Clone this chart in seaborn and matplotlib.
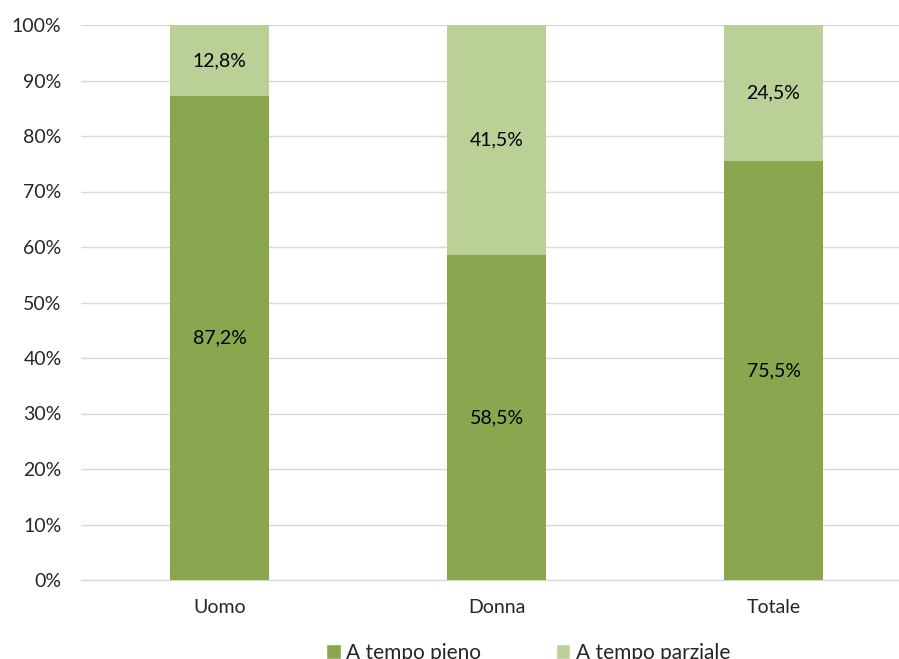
import matplotlib
matplotlib.use("Agg")
import matplotlib.pyplot as plt
import seaborn as sns
import pandas as pd
from matplotlib.patches import Patch

categorie = ["Uomo", "Donna", "Totale"]
tempo_pieno = [87.2, 58.5, 75.5]
tempo_parziale = [12.8, 41.5, 24.5]
serie = ["A tempo pieno", "A tempo parziale"]
colori = ["#8AA64E", "#BBD097"]
yticks = [0, 10, 20, 30, 40, 50, 60, 70, 80, 90, 100]

sns.set_theme(style="white")
plt.rcParams["font.family"] = ["Lato", "DejaVu Sans"]

df = pd.DataFrame({
    "categoria": categorie,
    "pieno": tempo_pieno,
    "totale": [a + b for a, b in zip(tempo_pieno, tempo_parziale)],
})

fig = plt.figure(figsize=(8.99, 6.59), dpi=100)
ax = fig.add_axes([81 / 899, 1 - 580 / 659, 831 / 899, 555 / 659])

sns.barplot(data=df, x="categoria", y="totale", color=colori[1], width=0.354,
            saturation=1, linewidth=0, ax=ax, zorder=2)
sns.barplot(data=df, x="categoria", y="pieno", color=colori[0], width=0.354,
            saturation=1, linewidth=0, ax=ax, zorder=3)

def fmt(v):
    return f"{v:.1f}%".replace(".", ",")

for i, (p, q) in enumerate(zip(tempo_pieno, tempo_parziale)):
    ax.text(i, p / 2, fmt(p), ha="center", va="center", fontsize=14, color="#000000", zorder=4)
    ax.text(i, p + q / 2, fmt(q), ha="center", va="center", fontsize=14, color="#000000", zorder=4)

ax.set_ylim(0, 100)
ax.set_yticks(yticks)
ax.set_yticklabels([f"{t}%" for t in yticks], fontsize=14)
ax.tick_params(axis="y", length=0, pad=14)
ax.tick_params(axis="x", length=0, pad=14, labelsize=14)
ax.set_xlabel("")
ax.set_ylabel("")
ax.yaxis.grid(True, color="#D9D9D9", linewidth=1, zorder=0)
ax.set_axisbelow(True)
for s in ["top", "right", "left"]:
    ax.spines[s].set_visible(False)
ax.spines["bottom"].set_color("#D9D9D9")
ax.spines["bottom"].set_linewidth(1)
ax.spines["bottom"].set_zorder(1)

handles = [Patch(facecolor=colori[0]), Patch(facecolor=colori[1])]
fig.legend(handles, serie, loc="center", bbox_to_anchor=(528 / 899, 1 - 653 / 659),
           ncol=2, frameon=False, fontsize=15, handlelength=0.7, handleheight=0.7,
           handletextpad=0.25, columnspacing=3.6)

fig.savefig("out.png", dpi=100)
